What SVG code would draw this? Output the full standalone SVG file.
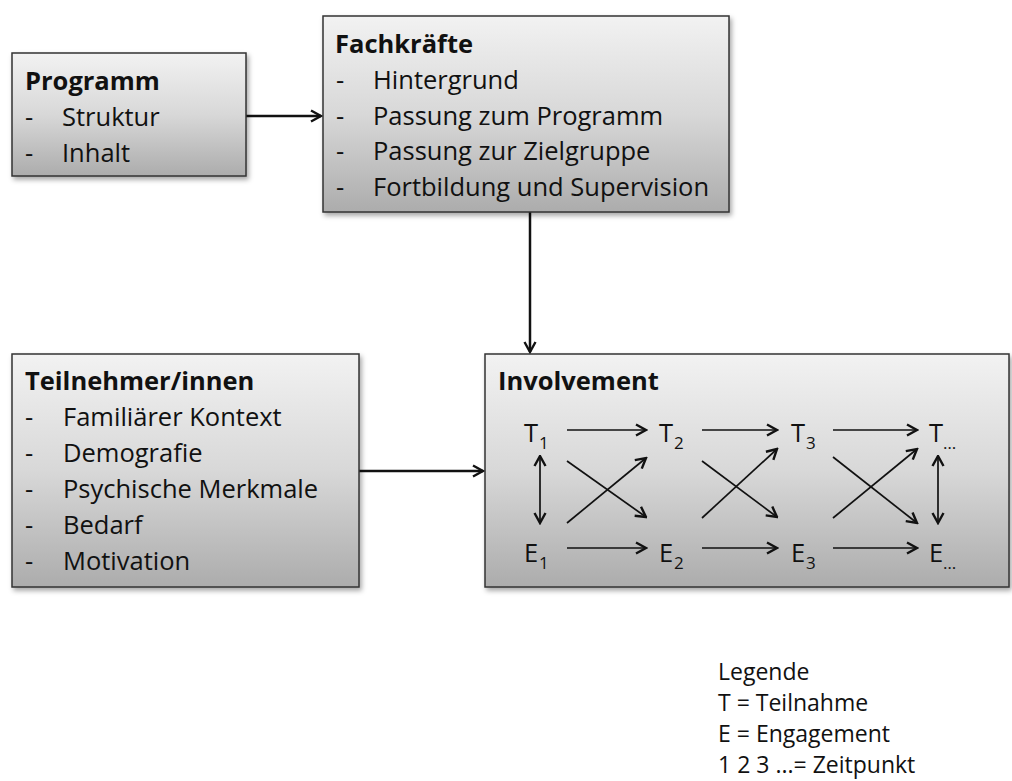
<svg xmlns="http://www.w3.org/2000/svg" width="1012" height="781" viewBox="0 0 1012 781">
<defs>
<linearGradient id="g" x1="0" y1="0" x2="0" y2="1">
<stop offset="0" stop-color="#f2f2f2"/>
<stop offset="0.5" stop-color="#d8d8d8"/>
<stop offset="1" stop-color="#acacac"/>
</linearGradient>
<filter id="sh" x="-5%" y="-5%" width="115%" height="120%">
<feDropShadow dx="2" dy="3" stdDeviation="2.5" flood-color="#000" flood-opacity="0.35"/>
</filter>
<marker id="ah" viewBox="0 0 14 14" refX="12.5" refY="7" markerWidth="14" markerHeight="14" markerUnits="userSpaceOnUse" orient="auto-start-reverse">
<path d="M2.5,1.5 L12.5,7 L2.5,12.5" fill="none" stroke="#111" stroke-width="2.4" stroke-linejoin="miter"/>
</marker>
</defs>
<style>
.box{fill:url(#g);stroke:#333;stroke-width:1.5;filter:url(#sh)}
text{font-family:"Open Sans","Noto Sans",sans-serif;fill:#111}
.t{font-size:25.5px;font-weight:bold}
.i{font-size:25.5px}
.s{font-size:17px}
.lg{font-size:23px}
.c{stroke:#111;stroke-width:2.5;fill:none;marker-end:url(#ah)}
.a{stroke:#111;stroke-width:1.7;fill:none;marker-end:url(#ah)}
.d{stroke:#111;stroke-width:1.7;fill:none;marker-end:url(#ah);marker-start:url(#ah)}
</style>
<g id="connectors">
<line class="c" x1="246" y1="116" x2="321" y2="116"/>
<line class="c" x1="530" y1="212" x2="530" y2="352"/>
<line class="c" x1="359" y1="471" x2="483" y2="471"/>
</g>
<g id="programm">
<rect class="box" x="12" y="53" width="234" height="123"/>
<text class="t" x="25" y="90">Programm</text>
<text class="i" x="25" y="126">-</text><text class="i" x="62" y="126">Struktur</text>
<text class="i" x="25" y="162">-</text><text class="i" x="62" y="162">Inhalt</text>
</g>
<g id="fachkraefte">
<rect class="box" x="323" y="16" width="406" height="196"/>
<text class="t" x="335" y="53">Fachkräfte</text>
<text class="i" x="336" y="89">-</text><text class="i" x="373" y="89">Hintergrund</text>
<text class="i" x="336" y="125">-</text><text class="i" x="373" y="125">Passung zum Programm</text>
<text class="i" x="336" y="160">-</text><text class="i" x="373" y="160">Passung zur Zielgruppe</text>
<text class="i" x="336" y="196">-</text><text class="i" x="373" y="196">Fortbildung und Supervision</text>
</g>
<g id="teilnehmer">
<rect class="box" x="12" y="354" width="347" height="233"/>
<text class="t" x="25" y="390">Teilnehmer/innen</text>
<text class="i" x="25" y="426">-</text><text class="i" x="63" y="426">Familiärer Kontext</text>
<text class="i" x="25" y="462">-</text><text class="i" x="63" y="462">Demografie</text>
<text class="i" x="25" y="498">-</text><text class="i" x="63" y="498">Psychische Merkmale</text>
<text class="i" x="25" y="534">-</text><text class="i" x="63" y="534">Bedarf</text>
<text class="i" x="25" y="570">-</text><text class="i" x="63" y="570">Motivation</text>
</g>
<g id="involvement">
<rect class="box" x="485" y="354" width="524" height="233"/>
<text class="t" x="498" y="390">Involvement</text>
<text class="i" x="524" y="442">T</text><text class="s" x="539" y="449">1</text>
<text class="i" x="659" y="442">T</text><text class="s" x="674" y="449">2</text>
<text class="i" x="791" y="442">T</text><text class="s" x="806" y="449">3</text>
<text class="i" x="929" y="442">T</text><text class="s" x="943" y="449">…</text>
<text class="i" x="524" y="562">E</text><text class="s" x="539" y="569">1</text>
<text class="i" x="659" y="562">E</text><text class="s" x="674" y="569">2</text>
<text class="i" x="791" y="562">E</text><text class="s" x="806" y="569">3</text>
<text class="i" x="929" y="562">E</text><text class="s" x="943" y="569">…</text>
</g>
<g id="involvement-arrows">
<line class="a" x1="567" y1="430" x2="646" y2="430"/>
<line class="a" x1="702" y1="430" x2="777" y2="430"/>
<line class="a" x1="833" y1="430" x2="917" y2="430"/>
<line class="a" x1="567" y1="548" x2="646" y2="548"/>
<line class="a" x1="702" y1="548" x2="777" y2="548"/>
<line class="a" x1="833" y1="548" x2="917" y2="548"/>
<line class="d" x1="540" y1="456" x2="540" y2="523"/>
<line class="d" x1="938" y1="456" x2="938" y2="523"/>
<line class="a" x1="567" y1="523" x2="646" y2="458"/>
<line class="a" x1="567" y1="461" x2="646" y2="517"/>
<line class="a" x1="702" y1="518" x2="777" y2="449"/>
<line class="a" x1="702" y1="461" x2="777" y2="517"/>
<line class="a" x1="833" y1="518" x2="917" y2="449"/>
<line class="a" x1="833" y1="457" x2="917" y2="523"/>
</g>
<g id="legende">
<text class="lg" x="718" y="680">Legende</text>
<text class="lg" x="718" y="711">T = Teilnahme</text>
<text class="lg" x="718" y="742">E = Engagement</text>
<text class="lg" x="718" y="773">1 2 3 ...= Zeitpunkt</text>
</g>
</svg>
